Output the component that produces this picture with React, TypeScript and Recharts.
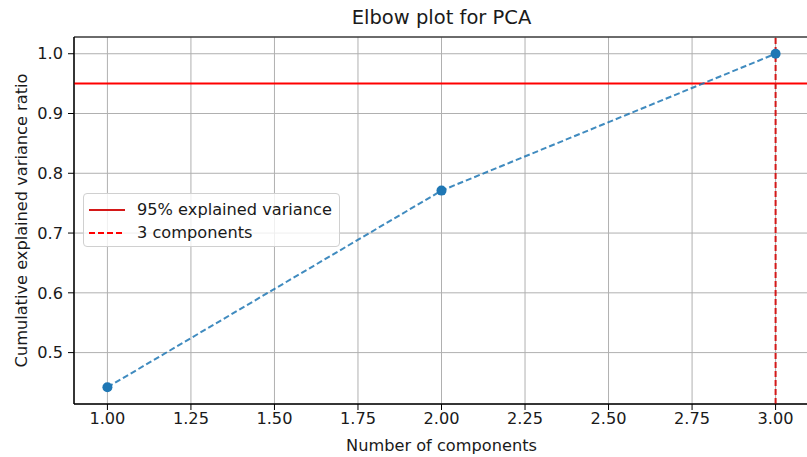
import {
  LineChart, Line, XAxis, YAxis, CartesianGrid, ReferenceLine, ReferenceArea, Label
} from 'recharts';

const components = [1, 2, 3];
const cumulativeVariance = [0.442, 0.771, 1.0];
const xTicks = [1, 1.25, 1.5, 1.75, 2, 2.25, 2.5, 2.75, 3];
const yTicks = [0.5, 0.6, 0.7, 0.8, 0.9, 1.0];
const threshold = 0.95;
const chosenComponents = 3;
const legendItems = ['95% explained variance', '3 components'];

const data = components.map((n, i) => ({ n, ratio: cumulativeVariance[i] }));

const FONT = '"DejaVu Sans", sans-serif';
const TEXT = '#1a1a1a';
const BLUE = '#1f77b4';
const FS = 16.2;

export default function App() {
  return (
    <div style={{ position: 'absolute', left: 0, top: 0, width: 807, height: 457, overflow: 'hidden', background: '#fff', fontFamily: FONT }}>
      <div style={{ position: 'absolute', left: 74, width: 735, top: 6, textAlign: 'center', fontSize: 19.5, color: TEXT }}>
        Elbow plot for PCA
      </div>

      <LineChart width={809} height={457} data={data} margin={{ top: 37, right: 0, bottom: 0, left: 0 }}>
        <CartesianGrid stroke="#b0b0b0" strokeWidth={1} />
        <XAxis
          type="number"
          dataKey="n"
          domain={[0.9, 3.1]}
          ticks={xTicks}
          allowDataOverflow
          height={53}
          tickFormatter={(v: number) => v.toFixed(2)}
          tick={{ fill: TEXT, fontSize: FS, fontFamily: FONT }}
          tickLine={{ stroke: '#000' }}
          axisLine={{ stroke: '#000' }}
          tickSize={6}
          tickMargin={2}
        >
          <Label value="Number of components" position="insideBottom" offset={6} style={{ fill: TEXT, fontSize: FS, fontFamily: FONT }} />
        </XAxis>
        <YAxis
          type="number"
          domain={[0.414, 1.028]}
          ticks={yTicks}
          allowDataOverflow
          width={74}
          tickFormatter={(v: number) => v.toFixed(1)}
          tick={{ fill: TEXT, fontSize: FS, fontFamily: FONT }}
          tickLine={{ stroke: '#000' }}
          axisLine={{ stroke: '#000' }}
          tickSize={6}
          tickMargin={5}
        >
          <Label value="Cumulative explained variance ratio" angle={-90} position="insideLeft" offset={21} style={{ fill: TEXT, fontSize: FS, fontFamily: FONT, textAnchor: 'middle' }} />
        </YAxis>
        <ReferenceArea x1={0.9} x2={3.1} y1={0.414} y2={1.028} fill="none" stroke="#000" strokeWidth={1} ifOverflow="visible" />
        <ReferenceLine y={threshold} stroke="#ff0000" strokeWidth={2} />
        <ReferenceLine x={chosenComponents} stroke="#d41818" strokeWidth={2} strokeDasharray="6 3" />
        <Line
          dataKey="ratio"
          stroke={BLUE}
          strokeOpacity={0.85}
          strokeWidth={2}
          strokeDasharray="6 3"
          dot={{ r: 5, fill: BLUE, stroke: BLUE, strokeWidth: 0, fillOpacity: 1 }}
          isAnimationActive={false}
        />
      </LineChart>

      <div style={{
        position: 'absolute', left: 83, top: 193, width: 257, height: 54, boxSizing: 'border-box',
        background: 'rgba(255,255,255,0.8)', border: '1px solid #d0d0d0', borderRadius: 4,
        fontSize: FS, color: TEXT, padding: '4px 0 0 5px'
      }}>
        {legendItems.map((label, i) => (
          <div key={label} style={{ display: 'flex', alignItems: 'center', height: 23 }}>
            <svg width={36} height={10} style={{ marginRight: 12 }}>
              <line x1={0} y1={5} x2={36} y2={5} stroke={i === 0 ? '#d41818' : '#ff0000'} strokeWidth={2} strokeDasharray={i === 0 ? undefined : '6 3'} />
            </svg>
            <span>{label}</span>
          </div>
        ))}
      </div>
    </div>
  );
}
